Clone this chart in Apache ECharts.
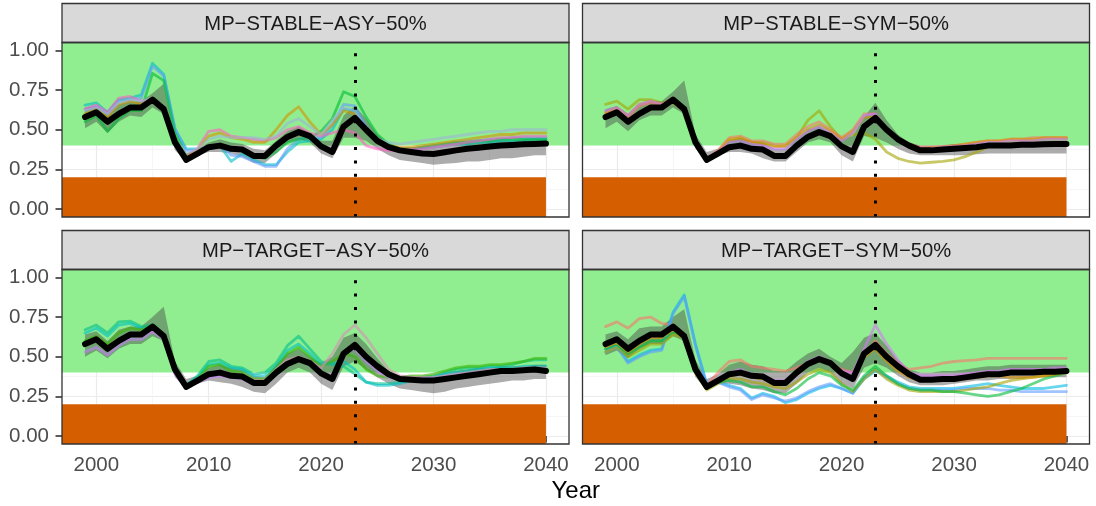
<!DOCTYPE html>
<html>
<head>
<meta charset="utf-8">
<script src="https://cdn.jsdelivr.net/npm/echarts@6.0.0/dist/echarts.min.js"></script>
<style>
html,body{margin:0;padding:0;background:#fff;}
#chart{width:1096px;height:506px;}
</style>
</head>
<body>
<div id="chart"></div>
<script>
// ---------------- DATA ----------------
const years = [1999,2000,2001,2002,2003,2004,2005,2006,2007,2008,2009,2010,2011,2012,2013,2014,2015,2016,2017,2018,2019,2020,2021,2022,2023,2024,2025,2026,2027,2028,2029,2030,2031,2032,2033,2034,2035,2036,2037,2038,2039,2040];
const panelTitles = ['MP−STABLE−ASY−50%','MP−STABLE−SYM−50%','MP−TARGET−ASY−50%','MP−TARGET−SYM−50%'];
const xTicks = [2000,2010,2020,2030,2040];
const xMinorTicks = [2005,2015,2025,2035];
const yTicks = [0,0.25,0.5,0.75,1];
const yMinorTicks = [0.125,0.375,0.625,0.875];
const xLim = [1996.95, 2042.05];
const yLim = [-0.05, 1.05];
const healthyLower = 0.4;
const limitUpper = 0.2;
const limitEndYear = 2040;
const currentYear = 2023;

// MP-STABLE-ASY-50%
const medSA = [0.58,0.61,0.55,0.60,0.64,0.64,0.69,0.63,0.42,0.31,0.35,0.39,0.40,0.38,0.375,0.335,0.335,0.40,0.455,0.485,0.46,0.395,0.36,0.52,0.575, 0.50,0.43,0.39,0.37,0.36,0.35,0.347,0.358,0.37,0.38,0.387,0.395,0.40,0.404,0.408,0.41,0.413];
const loSA = [0.51,0.55,0.48,0.55,0.59,0.58,0.64,0.60,0.37,0.30,0.34,0.36,0.36,0.35,0.33,0.29,0.29,0.35,0.42,0.44,0.42,0.35,0.32,0.45,0.45, 0.43,0.38,0.34,0.31,0.30,0.29,0.28,0.285,0.29,0.30,0.30,0.31,0.32,0.32,0.33,0.34,0.34];
const hiSA = [0.64,0.65,0.61,0.66,0.68,0.68,0.73,0.79,0.47,0.35,0.38,0.42,0.44,0.42,0.41,0.38,0.37,0.43,0.49,0.52,0.48,0.43,0.43,0.59,0.65, 0.57,0.47,0.41,0.39,0.39,0.39,0.39,0.40,0.41,0.42,0.42,0.43,0.43,0.43,0.44,0.44,0.44];
const omSA1 = [0.655,0.67,0.61,0.69,0.70,0.72,0.92,0.85,0.50,0.38,0.38,0.39,0.40,0.30,0.35,0.31,0.28,0.28,0.36,0.42,0.43,0.44,0.50,0.63,0.62, 0.50,0.43,0.39,0.38,0.38,0.385,0.39,0.40,0.41,0.41,0.42,0.42,0.43,0.43,0.43,0.44,0.44];
const omSA2 = [0.63,0.65,0.60,0.68,0.69,0.70,0.90,0.84,0.51,0.37,0.37,0.39,0.41,0.34,0.33,0.30,0.27,0.27,0.38,0.44,0.45,0.45,0.53,0.66,0.65, 0.52,0.44,0.40,0.38,0.38,0.39,0.40,0.41,0.42,0.43,0.43,0.44,0.44,0.45,0.45,0.45,0.45];
const omSA3 = [0.55,0.59,0.49,0.57,0.62,0.62,0.855,0.81,0.48,0.34,0.36,0.39,0.40,0.37,0.37,0.33,0.32,0.36,0.42,0.44,0.45,0.49,0.57,0.74,0.71, 0.58,0.47,0.41,0.38,0.38,0.39,0.40,0.41,0.42,0.42,0.43,0.43,0.44,0.44,0.44,0.44,0.44];
const omSA4 = [0.63,0.655,0.61,0.70,0.71,0.68,0.69,0.62,0.42,0.33,0.38,0.49,0.50,0.46,0.45,0.44,0.43,0.45,0.50,0.52,0.48,0.46,0.48,0.50,0.48, 0.40,0.38,0.37,0.37,0.38,0.38,0.39,0.40,0.41,0.42,0.43,0.44,0.45,0.45,0.46,0.46,0.46];
const omSA5 = [0.60,0.63,0.58,0.66,0.68,0.66,0.70,0.63,0.43,0.33,0.37,0.46,0.48,0.45,0.44,0.42,0.42,0.50,0.59,0.645,0.55,0.47,0.53,0.62,0.60, 0.50,0.43,0.40,0.39,0.39,0.40,0.41,0.42,0.43,0.44,0.45,0.46,0.47,0.47,0.48,0.48,0.48];
const omSA6 = [0.62,0.64,0.60,0.67,0.69,0.68,0.70,0.64,0.44,0.35,0.38,0.44,0.46,0.45,0.45,0.45,0.44,0.46,0.54,0.57,0.52,0.47,0.56,0.64,0.62, 0.50,0.44,0.42,0.41,0.42,0.43,0.44,0.45,0.46,0.47,0.48,0.49,0.49,0.50,0.50,0.50,0.50];

// MP-STABLE-SYM-50%
const medSS = [0.58,0.61,0.55,0.60,0.64,0.64,0.69,0.63,0.42,0.31,0.35,0.39,0.40,0.38,0.375,0.335,0.335,0.40,0.455,0.485,0.46,0.395,0.36,0.52,0.575, 0.50,0.44,0.40,0.37,0.37,0.375,0.38,0.385,0.39,0.40,0.40,0.40,0.405,0.405,0.408,0.41,0.41];
const loSS = [0.51,0.55,0.49,0.56,0.59,0.59,0.64,0.60,0.38,0.30,0.34,0.36,0.36,0.35,0.32,0.30,0.30,0.36,0.42,0.44,0.42,0.34,0.30,0.46,0.45, 0.42,0.38,0.35,0.34,0.34,0.34,0.34,0.34,0.345,0.35,0.35,0.35,0.35,0.35,0.35,0.35,0.35];
const hiSS = [0.63,0.65,0.60,0.66,0.68,0.68,0.74,0.81,0.47,0.36,0.38,0.43,0.45,0.43,0.42,0.38,0.38,0.44,0.50,0.52,0.48,0.44,0.46,0.58,0.67, 0.56,0.47,0.42,0.40,0.40,0.40,0.41,0.41,0.42,0.42,0.42,0.42,0.43,0.43,0.43,0.43,0.43];
const omSS1 = [0.66,0.68,0.63,0.69,0.69,0.67,0.67,0.62,0.42,0.31,0.36,0.43,0.44,0.42,0.42,0.40,0.39,0.45,0.56,0.62,0.52,0.44,0.47,0.48,0.44, 0.36,0.32,0.30,0.29,0.295,0.30,0.31,0.33,0.36,0.39,0.41,0.42,0.43,0.43,0.44,0.44,0.44];
const omSS2 = [0.60,0.63,0.58,0.65,0.67,0.66,0.69,0.63,0.42,0.32,0.37,0.45,0.46,0.43,0.43,0.41,0.41,0.47,0.52,0.55,0.50,0.45,0.50,0.60,0.60, 0.50,0.45,0.41,0.39,0.39,0.395,0.40,0.41,0.42,0.43,0.43,0.44,0.44,0.45,0.45,0.45,0.45];
const omSS3 = [0.61,0.64,0.59,0.66,0.68,0.66,0.70,0.64,0.41,0.31,0.36,0.44,0.45,0.42,0.41,0.39,0.40,0.45,0.50,0.53,0.49,0.44,0.49,0.58,0.58, 0.49,0.44,0.40,0.38,0.385,0.39,0.40,0.41,0.42,0.43,0.43,0.44,0.44,0.44,0.45,0.45,0.45];
const omSS4 = [0.62,0.64,0.59,0.66,0.68,0.66,0.69,0.62,0.41,0.32,0.36,0.42,0.43,0.41,0.40,0.38,0.38,0.44,0.49,0.52,0.48,0.43,0.48,0.59,0.60, 0.49,0.44,0.40,0.38,0.38,0.39,0.395,0.40,0.41,0.42,0.42,0.43,0.43,0.43,0.44,0.44,0.44];

// MP-TARGET-ASY-50%
const medTA = [0.58,0.61,0.55,0.60,0.64,0.64,0.69,0.63,0.42,0.31,0.35,0.39,0.40,0.38,0.375,0.335,0.335,0.40,0.455,0.485,0.46,0.395,0.36,0.52,0.575, 0.50,0.44,0.39,0.36,0.355,0.35,0.35,0.36,0.37,0.38,0.39,0.40,0.41,0.41,0.415,0.42,0.41];
const loTA = [0.50,0.54,0.49,0.55,0.58,0.58,0.63,0.60,0.37,0.30,0.33,0.35,0.34,0.33,0.31,0.28,0.27,0.33,0.40,0.43,0.40,0.33,0.29,0.44,0.47, 0.42,0.37,0.33,0.30,0.29,0.28,0.27,0.28,0.30,0.31,0.32,0.33,0.34,0.35,0.35,0.36,0.36];
const hiTA = [0.64,0.66,0.60,0.67,0.69,0.69,0.75,0.815,0.47,0.36,0.38,0.43,0.45,0.43,0.42,0.38,0.37,0.45,0.52,0.55,0.50,0.46,0.50,0.62,0.65, 0.58,0.49,0.41,0.38,0.38,0.38,0.38,0.40,0.41,0.42,0.43,0.43,0.44,0.44,0.44,0.45,0.45];
const omTA1 = [0.67,0.70,0.65,0.72,0.725,0.69,0.70,0.64,0.42,0.32,0.38,0.47,0.48,0.44,0.43,0.39,0.40,0.46,0.57,0.63,0.55,0.47,0.45,0.44,0.39, 0.34,0.33,0.33,0.34,0.36,0.37,0.38,0.40,0.42,0.43,0.43,0.44,0.44,0.45,0.47,0.48,0.48];
const omTA2 = [0.65,0.68,0.63,0.70,0.71,0.68,0.69,0.63,0.41,0.32,0.37,0.45,0.46,0.43,0.42,0.38,0.38,0.44,0.54,0.58,0.52,0.45,0.46,0.47,0.42, 0.34,0.32,0.32,0.33,0.35,0.36,0.37,0.39,0.40,0.41,0.42,0.43,0.43,0.43,0.44,0.44,0.44];
const omTA3 = [0.60,0.63,0.58,0.65,0.68,0.67,0.70,0.64,0.41,0.31,0.36,0.44,0.45,0.41,0.40,0.36,0.36,0.43,0.52,0.56,0.50,0.44,0.47,0.52,0.50, 0.42,0.38,0.37,0.37,0.38,0.38,0.39,0.41,0.43,0.44,0.44,0.45,0.45,0.46,0.47,0.49,0.49];
const omTA4 = [0.58,0.60,0.55,0.60,0.63,0.63,0.67,0.62,0.40,0.31,0.35,0.40,0.41,0.39,0.38,0.35,0.35,0.42,0.48,0.50,0.47,0.43,0.52,0.64,0.70, 0.62,0.52,0.42,0.38,0.37,0.37,0.37,0.38,0.39,0.40,0.41,0.42,0.42,0.42,0.43,0.43,0.43];
const omTA5 = [0.53,0.56,0.51,0.57,0.61,0.61,0.66,0.61,0.39,0.30,0.34,0.37,0.38,0.37,0.36,0.33,0.33,0.40,0.46,0.48,0.45,0.39,0.38,0.52,0.55, 0.47,0.41,0.37,0.36,0.36,0.36,0.36,0.37,0.38,0.39,0.40,0.40,0.41,0.41,0.42,0.42,0.42];

// MP-TARGET-SYM-50%
const medTS = [0.58,0.61,0.55,0.60,0.64,0.64,0.69,0.63,0.42,0.31,0.35,0.39,0.40,0.38,0.375,0.335,0.335,0.40,0.455,0.485,0.46,0.395,0.36,0.52,0.575, 0.50,0.44,0.39,0.355,0.355,0.36,0.36,0.37,0.38,0.39,0.39,0.40,0.40,0.40,0.405,0.405,0.41];
const loTS = [0.51,0.54,0.49,0.55,0.58,0.58,0.63,0.60,0.37,0.29,0.33,0.33,0.32,0.30,0.29,0.27,0.27,0.33,0.40,0.43,0.40,0.33,0.30,0.43,0.46, 0.43,0.38,0.34,0.32,0.32,0.32,0.33,0.34,0.35,0.35,0.36,0.36,0.36,0.37,0.37,0.37,0.37];
const hiTS = [0.64,0.66,0.61,0.68,0.69,0.69,0.75,0.80,0.48,0.36,0.39,0.45,0.47,0.45,0.44,0.41,0.41,0.47,0.52,0.55,0.50,0.46,0.53,0.62,0.65, 0.57,0.48,0.42,0.40,0.40,0.41,0.41,0.42,0.43,0.44,0.44,0.45,0.45,0.45,0.45,0.45,0.45];
const omTS1 = [0.69,0.72,0.68,0.74,0.75,0.71,0.70,0.64,0.42,0.32,0.40,0.47,0.48,0.44,0.43,0.42,0.41,0.43,0.46,0.48,0.46,0.42,0.40,0.50,0.60, 0.52,0.46,0.42,0.43,0.44,0.46,0.47,0.475,0.48,0.49,0.49,0.49,0.49,0.49,0.49,0.49,0.49];
const omTS2 = [0.55,0.57,0.47,0.51,0.54,0.55,0.78,0.89,0.58,0.33,0.34,0.32,0.30,0.24,0.27,0.25,0.21,0.23,0.27,0.30,0.32,0.30,0.27,0.36,0.41, 0.38,0.34,0.31,0.30,0.30,0.30,0.30,0.31,0.32,0.33,0.32,0.31,0.30,0.30,0.30,0.31,0.32];
const omTS3 = [0.53,0.56,0.46,0.50,0.53,0.54,0.77,0.88,0.57,0.32,0.34,0.31,0.29,0.23,0.26,0.24,0.22,0.24,0.28,0.31,0.33,0.30,0.27,0.37,0.42, 0.37,0.33,0.30,0.29,0.29,0.29,0.29,0.30,0.30,0.30,0.29,0.29,0.28,0.28,0.28,0.28,0.28];
const omTS4 = [0.57,0.60,0.54,0.59,0.63,0.63,0.68,0.62,0.41,0.32,0.36,0.40,0.42,0.39,0.38,0.35,0.35,0.41,0.47,0.50,0.47,0.41,0.40,0.55,0.70, 0.58,0.48,0.40,0.38,0.38,0.38,0.38,0.39,0.40,0.41,0.41,0.42,0.42,0.42,0.42,0.43,0.43];
const omTS5 = [0.53,0.56,0.50,0.54,0.58,0.58,0.64,0.62,0.40,0.29,0.33,0.36,0.36,0.34,0.33,0.31,0.30,0.34,0.39,0.42,0.40,0.33,0.28,0.36,0.42, 0.36,0.32,0.29,0.28,0.28,0.28,0.28,0.29,0.30,0.31,0.33,0.35,0.36,0.37,0.38,0.39,0.40];
const omTS6 = [0.55,0.58,0.52,0.56,0.60,0.60,0.66,0.63,0.40,0.30,0.34,0.35,0.34,0.31,0.31,0.28,0.26,0.30,0.36,0.40,0.38,0.32,0.29,0.38,0.44, 0.38,0.33,0.30,0.29,0.29,0.28,0.28,0.27,0.26,0.25,0.26,0.28,0.30,0.33,0.36,0.38,0.40];
const omTS7 = [0.56,0.59,0.53,0.58,0.62,0.62,0.67,0.62,0.40,0.31,0.35,0.38,0.39,0.37,0.36,0.33,0.33,0.39,0.45,0.48,0.45,0.39,0.36,0.50,0.55, 0.47,0.41,0.37,0.35,0.35,0.35,0.35,0.36,0.37,0.38,0.38,0.37,0.37,0.37,0.38,0.39,0.40];

// ---------------- STYLE / LAYOUT ----------------
const colorsSA = ['#00BFC4','#619CFF','#00BA38','#FF61C3','#D39200','#9FB4D8'];
const colorsSS = ['#A3A500','#F8766D','#D89000','#C77CFF'];
const colorsTA = ['#00C08B','#00BFC4','#39B600','#D88FB8','#C77CFF'];
const colorsTS = ['#F8766D','#00B9E3','#619CFF','#DB72FB','#A3A500','#00BA38','#D89000'];

const panels = [
  {title: panelTitles[0], med: medSA, lo: loSA, hi: hiSA, oms: [omSA1,omSA2,omSA3,omSA4,omSA5,omSA6], cols: colorsSA},
  {title: panelTitles[1], med: medSS, lo: loSS, hi: hiSS, oms: [omSS1,omSS2,omSS3,omSS4], cols: colorsSS},
  {title: panelTitles[2], med: medTA, lo: loTA, hi: hiTA, oms: [omTA1,omTA2,omTA3,omTA4,omTA5], cols: colorsTA},
  {title: panelTitles[3], med: medTS, lo: loTS, hi: hiTS, oms: [omTS1,omTS2,omTS3,omTS4,omTS5,omTS6,omTS7], cols: colorsTS}
];

const FONT = 'Liberation Sans, Arial, Helvetica, sans-serif';
const lefts = [62, 582.5];
const panelW = 507;
const stripTops = [3.5, 230.5];
const stripH = 39;
const panelH = 174.5;

const grids = [], xAxes = [], yAxes = [], series = [], graphics = [];

panels.forEach((p, i) => {
  const col = i % 2, row = Math.floor(i / 2);
  const left = lefts[col], top = stripTops[row] + stripH;
  grids.push({left: left, top: top, width: panelW, height: panelH, containLabel: false});
  const bottomRow = row === 1, leftCol = col === 0;
  xAxes.push({
    type: 'value', gridIndex: i, min: xLim[0], max: xLim[1], position: 'bottom',
    axisLine: {show: false},
    axisTick: {show: bottomRow, length: 6.5, lineStyle: {color: '#333', width: 1.6}, customValues: xTicks},
    axisLabel: {show: bottomRow, customValues: xTicks, margin: 11, color: '#4D4D4D', fontSize: 20.5, fontFamily: FONT, formatter: v => String(v)},
    splitLine: {show: true, lineStyle: {color: '#EBEBEB', width: 1.2}}
  });
  xAxes.push({
    type: 'value', gridIndex: i, min: xLim[0], max: xLim[1], position: 'top',
    axisLine: {show: false},
    axisTick: {show: false, customValues: xMinorTicks},
    axisLabel: {show: false, customValues: xMinorTicks},
    splitLine: {show: true, lineStyle: {color: '#F2F2F2', width: 0.7}}
  });
  yAxes.push({
    type: 'value', gridIndex: i, min: yLim[0], max: yLim[1], position: 'left',
    axisLine: {show: false},
    axisTick: {show: leftCol, length: 6.5, lineStyle: {color: '#333', width: 1.6}, customValues: yTicks},
    axisLabel: {show: leftCol, customValues: yTicks, margin: 13, color: '#4D4D4D', fontSize: 20.5, fontFamily: FONT, formatter: v => v.toFixed(2)},
    splitLine: {show: true, lineStyle: {color: '#EBEBEB', width: 1.2}}
  });
  yAxes.push({
    type: 'value', gridIndex: i, min: yLim[0], max: yLim[1], position: 'right',
    axisLine: {show: false},
    axisTick: {show: false, customValues: yMinorTicks},
    axisLabel: {show: false, customValues: yMinorTicks},
    splitLine: {show: true, lineStyle: {color: '#F2F2F2', width: 0.7}}
  });
  const xi = 2 * i, yi = 2 * i;
  series.push({
    type: 'line', xAxisIndex: xi, yAxisIndex: yi, data: [], silent: true, showSymbol: false,
    markArea: {
      silent: true, z: 1,
      data: [
        [{coord: [xLim[0], healthyLower], itemStyle: {color: '#90EE90', opacity: 1}}, {coord: [xLim[1], yLim[1]]}],
        [{coord: [xLim[0], yLim[0]], itemStyle: {color: '#D55E00', opacity: 1}}, {coord: [limitEndYear, limitUpper]}]
      ]
    }
  });
  series.push({
    type: 'custom', xAxisIndex: xi, yAxisIndex: yi, silent: true, z: 2, clip: true,
    data: [[2020, 0.5]],
    renderItem: function (params, api) {
      const pts = [];
      for (let k = 0; k < years.length; k++) pts.push(api.coord([years[k], p.hi[k]]));
      for (let k = years.length - 1; k >= 0; k--) pts.push(api.coord([years[k], p.lo[k]]));
      return {type: 'polygon', shape: {points: pts}, style: {fill: 'rgba(70,70,70,0.45)'}};
    }
  });
  p.oms.forEach((vals, j) => {
    series.push({
      type: 'line', xAxisIndex: xi, yAxisIndex: yi, silent: true, showSymbol: false, z: 3,
      data: years.map((y, k) => [y, vals[k]]),
      lineStyle: {color: p.cols[j], width: 2.8, opacity: 0.6, join: 'round', cap: 'round'}
    });
  });
  series.push({
    type: 'line', xAxisIndex: xi, yAxisIndex: yi, silent: true, showSymbol: false, z: 4,
    data: years.map((y, k) => [y, p.med[k]]),
    lineStyle: {color: '#000', width: 6, join: 'round', cap: 'round'},
    markLine: {
      silent: true, symbol: 'none', label: {show: false},
      lineStyle: {color: '#000', type: [3, 10.4], width: 3, cap: 'butt'},
      data: [{xAxis: currentYear}]
    }
  });
  graphics.push({
    type: 'rect', z: 50,
    shape: {x: left, y: stripTops[row], width: panelW, height: stripH},
    style: {fill: '#D9D9D9', stroke: '#333', lineWidth: 1.3}
  });
  graphics.push({
    type: 'text', z: 51,
    style: {x: left + panelW / 2, y: stripTops[row] + stripH / 2 + 1, text: p.title, fill: '#1A1A1A',
      font: '20.2px ' + FONT, textAlign: 'center', textVerticalAlign: 'middle'}
  });
  graphics.push({
    type: 'rect', z: 50,
    shape: {x: left, y: top, width: panelW, height: panelH},
    style: {fill: 'none', stroke: '#333', lineWidth: 1.3}
  });
});

graphics.push({
  type: 'text', z: 51,
  style: {x: (lefts[0] + lefts[1] + panelW) / 2, y: 491, text: 'Year', fill: '#000',
    font: '24px ' + FONT, textAlign: 'center', textVerticalAlign: 'middle'}
});

const chart = echarts.init(document.getElementById('chart'), null, {renderer: 'canvas'});
chart.setOption({
  animation: false,
  backgroundColor: '#fff',
  grid: grids,
  xAxis: xAxes,
  yAxis: yAxes,
  series: series,
  graphic: graphics
});
</script>
</body>
</html>
